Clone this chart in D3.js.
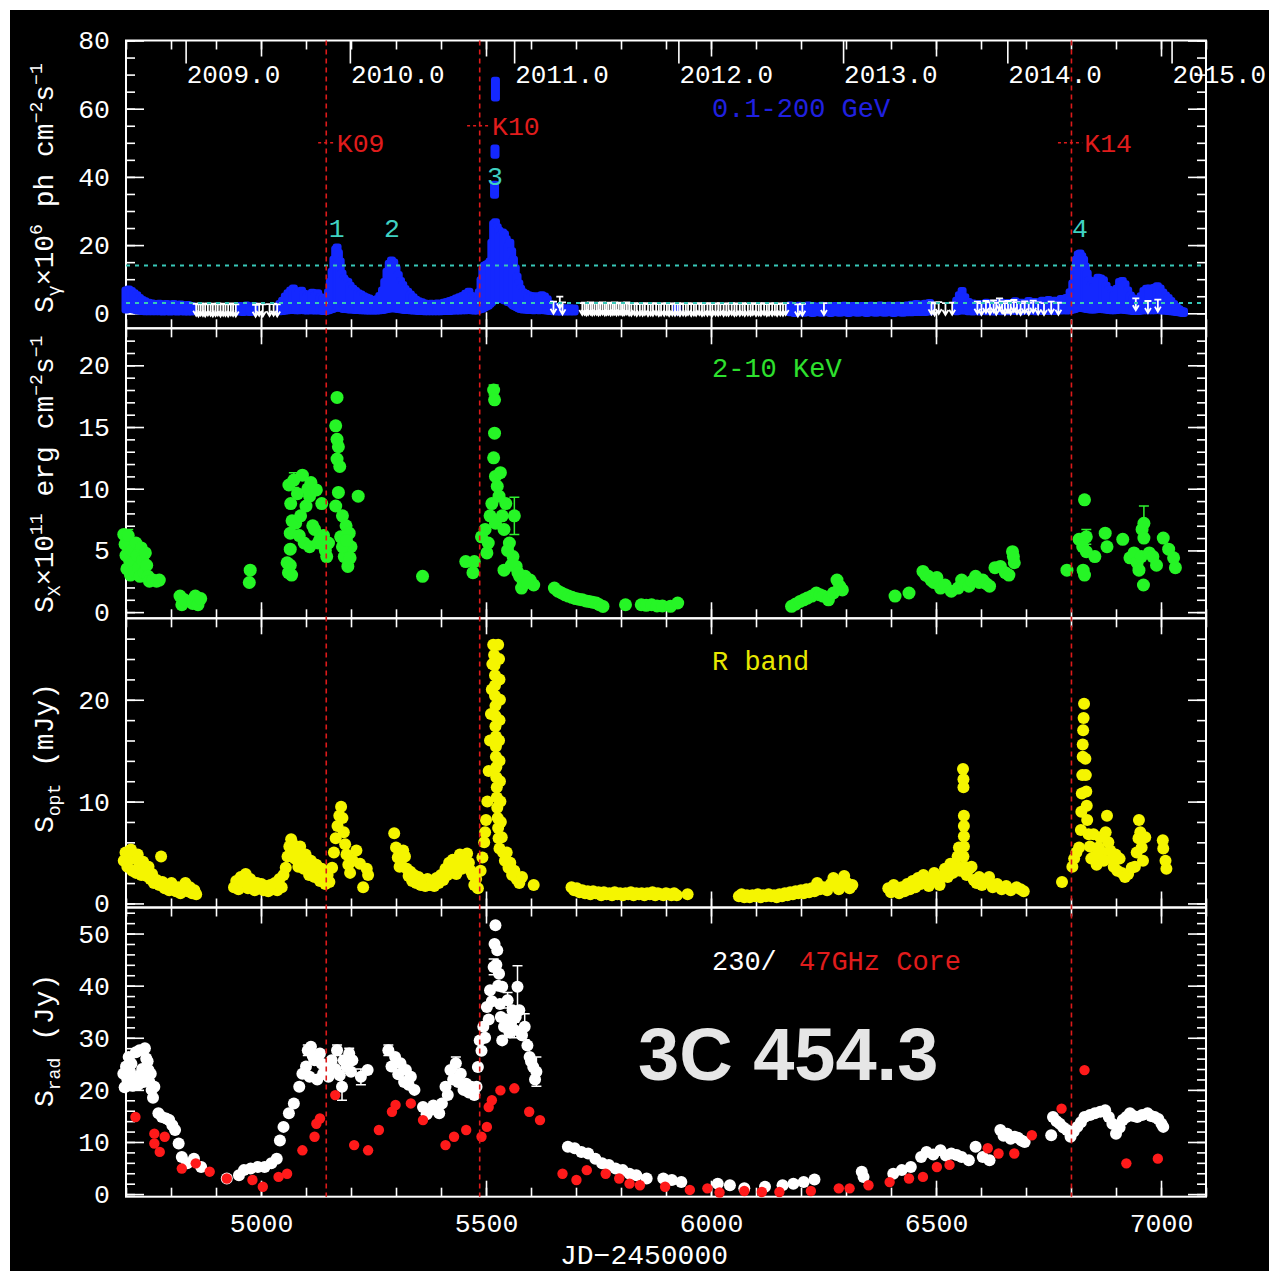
<!DOCTYPE html>
<html lang="en">
<head>
<meta charset="UTF-8">
<title>3C 454.3 multi-band light curves</title>
<script src="https://d3js.org/d3.v7.min.js"></script>
<style>
  body { margin: 0; background: #fff; }
</style>
</head>
<body>
<script>
// all times are JD-2450000

// gamma rays 0.1-200 GeV: [jd, low, high] extent of the points/error bars
const gammaRange = [
  [4700,0.8,7.0],[4706,1.0,7.3],[4712,1.0,6.8],[4718,0.8,6.2],[4724,0.6,5.6],[4730,0.5,4.8],[4736,0.4,4.2],
  [4742,0.3,3.8],[4750,0.3,3.4],[4758,0.3,3.2],[4766,0.3,3.0],[4774,0.3,3.1],[4782,0.2,2.9],[4790,0.3,3.0],
  [4798,0.2,2.8],[4806,0.3,3.0],[4814,0.2,2.8],[4822,0.3,2.9],[4830,0.2,2.6],[4838,0.2,2.7],[4846,0.2,2.4],
  [4952,0.2,2.4],[4960,0.1,2.3],[4968,0.2,2.6],[4976,0.1,2.2],[4984,0.2,2.4],
  [5042,0.3,3.0],[5048,0.4,4.0],[5054,0.5,5.2],[5060,0.6,6.2],[5066,0.7,7.0],[5072,0.7,7.6],[5078,0.6,6.6],
  [5084,0.6,6.4],[5090,0.7,6.9],[5096,0.6,6.0],[5102,0.5,5.2],[5108,0.6,5.6],[5114,0.6,6.3],[5120,0.5,5.6],
  [5126,0.6,6.2],[5132,0.5,5.0],[5138,0.4,4.4],[5144,0.4,4.0],[5150,0.6,6.5],[5154,0.8,9.5],[5158,1.0,12.5],
  [5162,1.2,16.0],[5166,1.5,19.0],[5169,1.5,19.6],[5172,1.5,18.0],[5176,1.3,15.5],[5180,1.2,12.0],[5184,1.0,10.5],
  [5188,1.0,9.8],[5193,0.9,9.5],[5198,0.8,8.4],[5204,0.8,7.5],[5210,0.7,6.8],[5216,0.7,6.2],[5222,0.6,5.8],
  [5228,0.6,5.3],[5234,0.5,4.9],[5240,0.5,4.6],[5246,0.5,4.2],[5252,0.5,4.0],[5258,0.5,4.4],[5264,0.6,5.4],
  [5270,0.7,7.0],[5275,0.8,9.5],[5280,1.0,12.5],[5285,1.1,14.8],[5290,1.2,15.8],[5295,1.2,15.2],[5300,1.1,13.5],
  [5305,1.0,11.5],[5310,0.9,9.8],[5315,0.8,8.6],[5320,0.7,7.4],[5326,0.7,6.6],[5332,0.6,5.8],[5338,0.5,5.0],
  [5344,0.5,4.3],[5350,0.4,3.8],[5357,0.4,3.5],[5364,0.3,3.2],[5371,0.3,2.9],[5378,0.3,3.1],[5385,0.3,2.9],
  [5392,0.3,3.2],[5399,0.3,3.0],[5406,0.4,3.4],[5413,0.4,3.6],[5420,0.4,3.9],[5427,0.5,4.2],[5434,0.5,4.6],
  [5441,0.5,5.0],[5448,0.6,5.4],[5455,0.6,6.0],[5462,0.7,6.6],[5468,0.6,5.4],[5474,0.5,4.4],[5480,0.5,4.0],
  [5485,0.8,6.5],[5489,1.0,10.0],[5493,1.2,13.0],[5497,1.5,14.2],[5501,1.8,14.5],[5505,2.0,14.8],[5509,2.5,15.5],
  [5513,3.0,21.0],[5517,3.5,26.5],[5521,4.0,27.0],[5525,4.0,25.5],[5529,4.0,24.5],[5533,4.0,23.0],[5537,4.0,24.0],
  [5541,3.5,23.5],[5545,3.5,22.0],[5549,3.0,20.0],[5553,3.0,21.0],[5557,2.5,18.5],[5561,2.0,16.0],[5565,1.8,13.5],
  [5569,1.5,11.0],[5573,1.2,9.0],[5577,1.0,7.5],[5582,0.8,6.5],[5588,0.8,6.0],[5594,0.7,5.6],[5600,0.7,5.4],
  [5606,0.6,5.0],[5612,0.7,5.3],[5618,0.6,5.0],[5624,0.7,5.6],[5630,0.6,5.2],[5636,0.5,4.4],[5642,0.4,3.0],
  [5650,0.3,2.4],[5658,0.2,2.1],[5666,0.2,1.9],[5676,0.2,1.8],[5686,0.2,1.8],[5696,0.2,1.7],
  [5519,34.5,38.0],[5520,46.2,48.6],[5521,63.0,68.5],[5924,0.2,2.0],
  [6176,0.0,2.6],[6186,-0.2,2.4],[6196,0.0,2.5],[6206,-0.1,2.3],[6216,0.0,2.6],[6226,-0.2,2.4],[6236,0.0,2.3],
  [6246,-0.1,2.5],[6256,0.0,2.4],[6266,-0.2,2.2],[6276,0.0,2.4],[6286,-0.1,2.3],[6296,0.0,2.5],[6306,-0.2,2.3],
  [6316,0.0,2.4],[6326,-0.1,2.2],[6336,0.0,2.4],[6346,-0.2,2.3],[6356,0.0,2.5],[6366,-0.1,2.4],[6376,0.0,2.6],
  [6386,-0.1,2.4],[6396,0.0,2.5],[6406,-0.2,2.3],[6416,0.0,2.5],[6426,-0.1,2.4],[6436,0.0,2.6],[6446,0.0,2.8],
  [6456,0.1,3.0],[6466,0.1,2.9],[6476,0.1,3.1],[6486,0.2,3.3],[6546,0.3,4.0],[6552,0.5,5.6],[6558,0.6,6.8],
  [6564,0.5,5.0],[6572,0.3,3.6],[6582,0.2,3.2],[6596,0.2,3.0],[6612,0.3,3.4],[6628,0.2,3.1],[6644,0.3,3.5],
  [6660,0.3,3.3],[6676,0.4,3.8],[6690,0.3,3.4],[6706,0.4,3.9],[6720,0.3,3.6],[6736,0.4,4.0],[6750,0.4,4.2],
  [6764,0.4,4.0],[6778,0.5,4.5],[6790,0.5,4.8],[6798,0.6,6.5],[6804,0.8,9.0],[6808,1.0,13.0],[6812,1.2,16.0],
  [6816,1.3,17.5],[6820,1.3,17.8],[6824,1.3,17.0],[6828,1.2,16.0],[6832,1.1,14.0],[6836,1.0,12.0],[6840,0.9,10.0],
  [6845,0.8,8.5],[6850,0.8,8.0],[6855,0.9,9.8],[6860,1.0,10.7],[6866,1.0,10.5],[6872,0.9,10.0],[6878,0.8,8.4],
  [6884,0.7,7.2],[6890,0.6,6.0],[6896,0.6,5.6],[6902,0.7,7.5],[6908,0.8,9.5],[6914,0.8,9.8],[6920,0.7,8.8],
  [6926,0.6,7.0],[6932,0.5,5.5],[6938,0.4,4.6],[6944,0.4,4.2],[6950,0.4,4.4],[6956,0.5,5.3],[6962,0.6,6.8],
  [6968,0.6,7.5],[6974,0.6,7.6],[6980,0.6,7.4],[6986,0.6,7.8],[6992,0.7,8.2],[6998,0.6,7.6],[7004,0.5,6.4],
  [7010,0.5,5.5],[7016,0.4,4.8],[7022,0.3,3.9],[7028,0.2,3.0],[7034,0.1,2.2],[7040,0.0,1.5],[7046,-0.1,1.0],[7050,-0.2,0.8]
];

// gamma-ray upper limits: [jd, limit]
const gammaLimits = [
  [4856,2.8],[4861,2.6],[4866,2.9],[4871,2.7],[4876,2.6],[4882,2.9],[4888,2.8],[4893,2.6],[4899,2.7],[4904,2.9],
  [4910,2.6],[4916,2.8],[4921,2.7],[4927,2.6],[4933,2.9],[4938,2.7],[4944,2.6],
  [4988,2.5],[4996,2.8],[5004,2.6],[5019,2.7],[5028,2.8],[5036,2.6],
  [5650,3.4],[5664,4.9],[5670,3.2],[5714,3.0],[5719,3.1],[5723,2.9],[5727,3.0],[5732,3.2],[5736,2.9],[5741,3.0],
  [5746,3.1],[5750,2.9],[5754,3.0],[5759,3.2],[5764,2.9],[5768,3.0],[5772,3.1],[5777,2.9],[5782,3.0],[5786,3.2],
  [5790,2.9],[5795,3.0],[5800,3.1],[5804,2.9],[5808,3.0],[5813,3.2],[5818,2.9],[5823,2.8],[5830,3.0],[5835,2.7],
  [5842,2.9],[5848,2.8],[5853,3.0],[5860,2.7],[5866,2.9],[5871,2.8],[5878,3.0],[5884,2.7],[5889,2.9],[5896,2.8],
  [5902,3.0],[5907,2.7],[5914,2.9],[5920,2.8],[5926,3.0],[5931,2.7],[5938,2.9],[5944,2.8],[5949,3.0],[5956,2.7],
  [5962,2.9],[5967,2.8],[5974,3.0],[5980,2.7],[5985,2.9],[5992,2.8],[5998,3.0],[6003,2.7],[6010,2.9],[6016,2.8],
  [6021,3.0],[6028,2.7],[6034,2.9],[6039,2.8],[6046,3.0],[6052,2.7],[6057,2.9],[6064,2.8],[6070,3.0],[6075,2.7],
  [6082,2.9],[6088,2.8],[6093,3.0],[6100,2.7],[6106,2.9],[6111,2.8],[6118,3.0],[6124,2.7],[6129,2.9],[6136,2.8],
  [6142,3.0],[6147,2.7],[6154,2.9],[6160,2.8],[6166,3.0],
  [6193,2.6],[6203,2.8],[6251,3.0],[6490,3.2],[6497,2.9],[6506,3.3],[6521,3.0],[6536,3.1],
  [6592,3.4],[6601,3.0],[6611,3.6],[6620,3.2],[6628,3.8],[6634,3.1],[6641,4.4],[6647,3.5],[6653,3.0],[6660,3.6],
  [6666,3.2],[6673,3.9],[6680,3.3],[6688,3.0],[6697,3.5],[6706,3.1],[6716,3.7],[6727,3.2],[6740,3.0],[6756,3.4],
  [6772,3.1],[6944,4.4],[6971,3.6],[6993,4.0]
];
const gammaLevels = [14, 3];

// X-rays 2-10 keV: [jd, flux, err?]
const xray = [
  [4695,6.3],[4698,5.5],[4700,4.6],[4702,3.5],[4705,6.2,0.5],[4708,4.2],[4710,3.0],[4713,5.0],[4716,4.0],[4719,3.3],
  [4722,5.6],[4725,4.6],[4728,3.6],[4731,2.9],[4734,5.2],[4737,4.2],[4740,3.2],[4743,4.8],[4746,3.8],[4749,2.9],
  [4752,2.5],[4760,2.6],[4768,2.5],[4774,2.6],
  [4820,1.3],[4824,0.6],[4830,1.0],[4848,0.7],[4854,1.3],[4860,0.6],[4866,1.1],
  [4974,2.4],[4976,3.4],
  [5058,4.0],[5061,3.2],[5065,3.8],[5068,3.0],[5065,5.1],
  [5062,10.3],[5066,8.8],[5065,6.4],[5069,7.4],[5073,10.7,0.6],[5077,7.2],[5081,9.6],[5085,6.2],[5088,7.8],[5092,11.1],
  [5096,5.6],[5100,8.6],[5104,10.0],[5108,9.4],[5108,5.3],[5111,10.5],[5115,7.0],[5119,6.7],[5123,9.9],[5127,5.6],
  [5131,5.9],[5135,8.8],[5139,6.2],[5143,5.0],[5146,4.5],[5150,5.6],
  [5166,15.1],[5169,17.4],[5169,14.0],[5172,13.4],[5169,12.4],[5175,11.8],[5172,9.7],[5166,8.6],[5181,7.8],[5189,7.0],
  [5177,6.1],[5196,6.4],[5200,5.3],[5185,4.5],[5193,3.7],[5181,5.3],[5216,9.4],[5190,5.8],[5198,4.4],
  [5359,2.9],[5455,4.1],[5474,4.1],[5471,3.2],
  [5490,6.1],[5498,6.7],[5502,4.8],[5505,5.6],[5509,7.8],[5513,8.8],[5517,18.0,0.4],[5519,17.2],[5519,14.5],[5517,12.5],
  [5521,11.0],[5525,10.2],[5529,9.4],[5532,11.3],[5521,7.2],[5536,7.8],[5540,6.7],[5544,8.8],[5563,7.8,1.5],[5540,3.4],
  [5552,5.6],[5560,4.5],[5567,3.7],[5575,2.9],[5579,1.95],[5587,2.9],[5598,2.6],[5606,2.2],[5548,5.0],[5556,3.8],
  [5571,3.2],[5583,2.4],[5592,2.4],
  [5652,1.95],[5660,1.7],[5668,1.55],[5676,1.4],[5683,1.3],[5691,1.2],[5699,1.1],[5706,1.05],[5714,1.0],[5722,0.9],
  [5729,0.87],[5737,0.8],[5745,0.74],[5752,0.6],[5760,0.46],
  [5810,0.6],[5845,0.6],[5856,0.55],[5868,0.6],[5880,0.5],[5892,0.5],[5910,0.47],[5926,0.74],
  [6179,0.47],[6188,0.65],[6198,0.87],[6206,1.0],[6214,1.14],[6224,1.3],[6234,1.55],[6242,1.4],[6249,1.3],[6261,1.0],
  [6272,1.55],[6280,2.6],[6286,2.1],[6292,1.8],
  [6409,1.3],[6440,1.55],
  [6471,3.3],[6477,3.0],[6483,2.9],[6489,2.6],[6495,2.4],[6502,2.8],[6510,1.95],[6520,2.2],[6534,1.7],[6549,1.95],
  [6557,2.6],[6565,2.3],[6573,2.1],[6580,2.5],[6588,2.9],[6596,2.4],[6604,2.6],[6612,2.3],[6619,2.1],[6631,3.6],
  [6643,3.7],[6654,3.2],[6662,3.0],[6670,4.9],[6674,4.0],[6672,4.5],
  [6791,3.4],
  [6830,9.1],[6818,5.9],[6834,6.1,0.6],[6826,5.3],[6834,4.9],[6830,3.0],[6827,3.4],[6853,4.5],[6876,6.4],[6880,5.3],
  [6915,5.9],[6931,4.4],[6940,4.8],[6947,4.0],[6958,6.7],[6962,7.2,1.4],[6962,6.0],[6951,3.4],[6961,2.2],[6956,4.5],
  [6974,4.8],[6982,4.5],[6990,3.8],[7005,6.0],[7017,5.1],[7028,4.4],[7032,3.6]
];

// optical R band (mJy): [jd, flux]
const optical = [
  [4695,4.2],[4699,5.0],[4703,3.6],[4707,4.6],[4711,5.3],[4714,3.2],[4718,4.4],[4722,3.0],[4726,4.8],[4730,3.8],
  [4734,2.8],[4738,4.1],[4742,3.3],[4746,2.7],[4750,3.6],[4754,2.4],[4758,2.9],[4762,2.0],[4778,4.6],[4768,2.3],
  [4774,1.8],[4781,2.1],[4786,1.5],[4791,1.8],[4796,1.3],[4801,2.0],[4806,1.5],[4811,1.2],[4816,1.6],[4821,1.0],
  [4826,1.4],[4832,2.0],[4837,1.2],[4842,1.6],[4847,1.0],[4852,1.3],[4856,0.9],
  [4940,1.6],[4945,2.2],[4950,1.4],[4955,2.6],[4960,1.8],[4966,2.9],[4971,1.5],[4976,2.4],[4981,1.9],[4986,1.3],
  [4991,2.0],[4996,1.5],[5001,1.9],[5006,1.3],[5011,1.7],[5016,1.2],[5021,1.8],[5026,1.4],[5031,2.0],[5036,1.3],
  [5041,2.4],[5046,1.6],[5050,2.8],
  [5055,3.5],[5059,4.6],[5063,5.6],[5067,6.3],[5071,5.8],[5075,4.4],[5079,5.2],[5083,3.6],[5087,5.6],[5091,4.6],
  [5095,3.4],[5099,4.8],[5103,3.9],[5107,2.8],[5111,4.2],[5115,3.3],[5119,2.6],[5123,3.8],[5127,2.9],[5131,2.2],
  [5135,3.4],[5139,2.5],[5143,1.9],[5148,2.8],[5152,2.1],
  [5158,3.5],[5162,5.0],[5166,6.4],[5170,7.6],[5174,8.6],[5178,9.5],[5181,8.4],[5184,7.0],[5187,5.8],[5190,4.8],
  [5194,3.8],[5198,3.0],[5204,4.2],[5212,5.2],[5220,3.9],[5227,1.6],[5235,3.4],[5238,2.8],
  [5296,6.9],[5300,5.5],[5304,4.5],[5308,3.6],[5312,4.3],[5316,5.2],[5320,4.6],[5324,3.4],[5328,2.7],[5332,3.1],
  [5336,2.2],[5340,2.8],[5345,2.0],[5350,2.6],[5355,1.8],[5360,2.3],[5365,1.7],[5370,2.4],[5375,1.8],[5380,2.1],
  [5385,1.7],[5390,2.5],[5395,2.0],[5400,2.8],[5405,2.3],[5410,3.4],[5414,2.8],[5418,4.0],[5422,3.3],[5426,4.3],
  [5430,3.6],[5434,2.9],[5438,4.2],[5442,4.8],[5446,3.4],[5450,4.6],[5454,3.7],[5458,4.9],[5462,4.0],[5466,3.2],
  [5470,2.8],[5474,1.8],[5478,2.4],[5482,1.5],
  [5488,3.2],[5492,4.5],[5496,6.0],[5498,7.0],[5500,8.2],[5503,10.0],[5506,13.0],[5509,16.0],[5511,18.6],[5513,21.0],
  [5514,23.5],[5516,25.4],[5518,24.4],[5519,23.4],[5520,22.4],[5520,21.4],[5520,20.4],[5521,19.4],[5521,18.4],
  [5521,17.4],[5522,16.4],[5522,15.4],[5522,14.4],[5523,13.4],[5523,12.4],[5524,11.4],[5524,10.4],[5525,9.4],
  [5526,8.4],[5527,7.4],[5528,6.4],[5530,5.4],[5527,25.4],[5529,24.0],[5530,22.0],[5531,20.0],[5530,18.0],
  [5529,16.0],[5530,14.0],[5531,12.0],[5532,10.0],[5533,8.0],[5535,6.5],
  [5538,5.0],[5542,4.2],[5546,5.0],[5550,3.5],[5554,4.0],[5558,2.8],[5563,3.2],[5568,2.4],[5574,2.0],[5580,2.6],
  [5606,1.8],
  [5690,1.6],[5696,1.3],[5702,1.5],[5708,1.1],[5714,1.3],[5720,1.0],[5726,1.2],[5732,0.9],[5738,1.2],[5744,1.0],
  [5750,1.1],[5756,0.8],[5762,1.1],[5768,0.9],[5774,1.0],[5780,0.8],[5786,1.1],[5792,0.9],[5798,1.0],[5804,0.8],
  [5810,1.0],[5816,0.9],[5822,1.1],[5828,0.8],[5834,1.0],[5840,0.9],[5846,1.0],[5852,0.8],[5858,1.0],[5864,0.9],
  [5870,1.1],[5876,0.8],[5882,1.0],[5888,0.9],[5894,0.8],[5900,1.0],[5906,0.9],[5912,0.8],[5918,1.0],[5924,0.8],
  [5948,0.9],
  [6062,0.7],[6068,0.9],[6074,0.6],[6080,0.8],[6086,0.6],[6092,0.8],[6098,0.7],[6104,0.9],[6110,0.6],[6116,0.8],
  [6122,0.7],[6128,0.9],[6134,0.7],[6140,0.8],[6146,0.6],[6152,0.9],[6158,0.7],[6164,1.0],[6170,0.8],[6176,1.1],
  [6182,0.9],[6188,1.2],[6194,1.0],[6200,1.3],[6206,1.0],[6212,1.4],[6218,1.1],[6224,1.5],[6230,1.2],[6236,2.0],
  [6242,1.4],[6250,1.6],[6258,1.3],[6266,1.9],[6272,2.5],[6278,1.7],[6284,1.4],[6290,2.2],[6296,2.7],[6302,2.0],
  [6308,1.5],[6314,1.8],
  [6394,1.5],[6400,1.1],[6406,1.8],[6412,1.3],[6418,1.0],[6424,1.6],[6430,1.2],[6436,1.9],[6442,1.4],[6448,2.2],
  [6454,1.6],[6460,2.5],[6466,1.9],[6472,2.8],[6478,2.2],[6484,1.7],[6490,2.4],[6496,3.0],[6502,2.3],[6508,1.8],
  [6514,2.7],[6520,3.4],[6526,2.6],[6532,3.9],[6538,3.0],[6544,3.8],[6548,4.6],[6551,5.5],[6554,3.2],[6560,13.2],
  [6561,12.2],[6561,11.4],[6562,8.6],[6562,7.6],[6562,6.6],[6562,5.6],[6561,4.6],[6564,3.6],[6568,2.8],[6574,3.4],
  [6579,3.6],[6584,2.3],[6590,2.0],[6596,2.6],[6602,1.8],[6608,2.2],[6618,2.6],[6626,1.6],[6636,1.9],[6646,1.4],
  [6656,1.7],[6666,1.3],[6679,1.6],[6688,1.4],[6695,1.2],
  [6780,2.1],
  [6803,3.6],[6807,4.4],[6812,5.0],[6818,5.5],[6822,7.2],[6823,9.0],[6824,10.8],[6825,12.6],[6826,14.4],[6826,15.6],
  [6827,17.0],[6828,18.2],[6829,19.6],[6832,14.2],[6833,12.6],[6834,11.0],[6835,9.6],[6836,8.2],[6839,6.8],[6842,5.6],
  [6845,4.4],[6850,6.8],[6853,4.6],[6857,3.8],[6861,5.5],[6865,6.5],[6869,5.0],[6873,4.2],[6877,7.0],[6880,8.6],
  [6883,6.0],[6887,5.2],[6891,4.4],[6895,3.6],[6899,4.8],[6903,3.2],[6908,4.4],[6913,3.0],[6920,2.6],[6927,2.9],
  [6935,3.5],[6942,3.6],[6946,5.0],[6950,6.4],[6951,8.2],[6954,7.0],[6957,5.5],[6960,4.2],[6965,6.5],
  [7004,6.2],[7005,5.4],[7010,4.2],[7012,3.4]
];

// radio 230 GHz (Jy): [jd, flux, err?]
const radio230 = [
  [4694,23.1],[4697,20.5],[4700,24.5],[4703,22.0],[4706,26.3],[4709,23.5],[4712,25.0],[4715,20.8],[4718,22.0],
  [4722,27.2],[4727,21.0],[4730,27.6],[4733,23.0],[4736,24.0],[4739,21.5],[4742,28.0],[4745,26.0],[4748,25.5],
  [4750,23.8],[4752,21.5],[4755,23.1],[4757,20.0],[4763,20.6],[4760,18.5],[4772,15.5],[4780,14.8],[4789,14.5],
  [4796,14.2],[4803,13.2],[4809,12.3],[4817,9.7],[4824,7.1],[4836,5.9],[4851,6.8],[4867,5.2],
  [4924,3.0],[4951,3.6],[4962,4.6],[4977,4.9],[4993,5.2],[5008,5.2],[5023,5.9],[5035,6.8],
  [5042,10.3],[5050,12.9],[5062,15.5],[5073,17.4],[5085,20.6],[5092,23.1],[5100,24.5],[5104,27.6,1.0],[5108,22.5],
  [5111,28.3],[5115,26.5],[5119,25.7],[5125,22.0],[5131,27.0],[5135,25.0],[5138,23.1],[5146,24.4],[5150,22.5],
  [5157,25.7],[5165,24.0],[5169,27.6,1.0],[5175,22.8],[5180,20.6,2.6],[5184,25.7],[5190,24.5],[5196,27.0,1.0],
  [5200,23.5],[5203,25.7],[5222,22.5,1.5],[5237,23.8],
  [5283,27.6,1.0],[5290,24.5],[5298,26.3],[5305,23.0],[5310,25.1],[5318,21.5],[5322,23.8],[5328,21.0],[5333,22.5],
  [5341,20.0],[5360,16.7],[5368,15.3],[5375,16.1],[5383,17.0],[5391,16.1],[5396,15.5],[5402,17.4],
  [5410,20.6],[5415,19.0],[5421,23.8],[5427,22.0],[5433,25.1,1.2],[5438,21.5],[5444,23.1],[5450,20.0],[5456,21.2],
  [5462,19.5],[5467,20.6],[5474,19.0],[5479,20.6],
  [5482,24.4],[5486,29.5],[5490,27.5],[5494,32.1],[5498,30.0],[5502,35.9],[5506,33.5],[5509,39.1],[5513,37.0],
  [5517,43.6,1.5],[5519,48.0],[5521,51.6],[5523,44.0],[5525,46.8],[5527,40.0],[5529,42.3],[5531,36.5],[5533,34.0],
  [5536,39.8],[5540,32.1],[5536,29.5],[5545,33.5],[5548,37.2,1.5],[5552,31.0],[5556,33.0],[5559,35.3],[5563,31.5,1.5],
  [5566,34.0],[5570,39.8,4.0],[5574,35.3],[5580,30.5],[5586,32.1,2.5],[5592,28.5],[5597,26.3],[5600,25.5],
  [5605,24.4],[5609,22.0],[5612,23.5,2.8],
  [5682,9.1],[5697,8.8],[5712,8.1],[5727,7.8],[5743,6.8],[5758,5.9],[5773,5.6],[5788,4.9],[5804,4.6],[5819,3.9],
  [5834,3.6],[5857,3.0],[5894,3.0],[5913,2.7],[5934,2.3],[6015,2.0],[6042,1.7],[6074,1.1],[6120,1.4],[6159,1.7],
  [6183,2.0],[6206,2.3],[6230,2.8],[6335,4.3],[6339,3.3],[6405,3.9],[6424,4.6],[6444,5.2],[6467,7.1],[6479,8.1],
  [6494,7.6],[6510,8.4],[6522,7.4],[6534,7.8],[6546,7.5],[6557,7.1],[6573,6.5],[6588,9.1],[6604,7.1],[6619,6.5],
  [6643,12.3],[6650,11.2],[6658,11.6],[6666,10.6],[6674,11.0],[6682,10.8],[6690,10.3],[6697,10.0],
  [6756,11.3],[6760,14.8],[6768,14.0],[6775,13.5],[6783,12.8],[6791,12.3],[6799,11.0],[6806,12.0],[6814,12.9],
  [6822,13.8],[6830,14.8],[6842,15.2],[6853,15.5],[6865,15.8],[6876,16.1],[6884,14.8],[6892,13.5],[6900,11.6],
  [6908,12.8],[6915,14.2],[6923,14.8],[6931,15.5],[6939,15.0],[6947,14.8],[6958,15.2],[6970,15.5],[6978,15.0],
  [6986,14.8],[6994,14.4],[7001,13.5],[7005,12.9]
];

// radio 47 GHz VLBA core (Jy): [jd, flux]
const radio47 = [
  [4721,14.8],[4763,11.6],[4763,9.7],[4775,8.1],[4786,11.0],[4824,4.9],[4855,5.9],[4886,4.3],[4924,3.0],[4981,2.7],
  [5004,1.4],[5039,3.3],[5058,3.9],[5092,8.4],[5119,11.0],[5123,13.5],[5131,14.5],[5165,19.0],[5207,9.4],[5238,8.4],
  [5262,12.3],[5291,15.8],[5299,17.1],[5333,17.4],[5360,14.2],[5410,9.4],[5429,11.0],[5456,12.3],[5490,11.0],
  [5502,12.9],[5506,16.7],[5513,18.0],[5532,19.9],[5563,20.3],[5596,15.8],[5620,14.2],[5670,3.9],[5701,2.7],
  [5724,4.6],[5766,3.9],[5796,3.0],[5819,2.0],[5842,1.7],[5898,1.4],[5953,0.8],[5992,1.1],[6019,0.3],[6074,0.6],
  [6113,0.4],[6152,0.4],[6222,0.6],[6284,1.1],[6308,1.1],[6350,1.7],[6397,2.3],[6440,3.0],[6471,3.3],[6502,5.2],
  [6530,5.6],[6615,8.8],[6639,7.8],[6674,7.8],[6713,11.3],[6779,16.4],[6830,23.8],[6923,5.9],[6993,6.8]
];

// ejection epochs of the VLBI knots
const knotNames = ["K09", "K10", "K14"];
const knotJD = [5145, 5486, 6801];
const knotSpan = [[5127, 5164], [5458, 5509], [6771, 6825]];
const knotLevel = [50, 55, 50];

// numbered gamma-ray flares
const flareNames = ["1", "2", "3", "4"];
const flareJD = [5168, 5291, 5520, 6820];
const flareLevel = [22.4, 22.4, 37.6, 22.4];

// tick labels
const yearLabels = ["2009.0", "2010.0", "2011.0", "2012.0", "2013.0", "2014.0", "2015.0"];
const yearJD = [4832.5, 5197.5, 5562.5, 5927.5, 6293.5, 6658.5, 7023.5];
const jdLabels = [5000, 5500, 6000, 6500, 7000];
const bandNames = ["0.1-200 GeV", "2-10 KeV", "R band", "230/", "47GHz Core"];

const mono = '"Liberation Mono", "DejaVu Sans Mono", monospace';
const L = 126, R = 1206;

const svg = d3.select("body").append("svg").attr("width", 1269).attr("height", 1271);
svg.append("rect").attr("x", 10).attr("y", 10).attr("width", 1259).attr("height", 1261).attr("fill", "#000");

const x = d3.scaleLinear().domain([4700, 7100]).range([L, R]);

const panels = [
  { y: d3.scaleLinear().domain([-4.4, 80]).range([328.3, 40.5]), major: [0, 20, 40, 60, 80], minor: d3.range(0, 81, 5) },
  { y: d3.scaleLinear().domain([-0.5, 23]).range([618.3, 328.3]), major: [0, 5, 10, 15, 20], minor: d3.range(0, 23, 1) },
  { y: d3.scaleLinear().domain([-0.4, 28]).range([907.5, 618.3]), major: [0, 10, 20], minor: d3.range(0, 28, 2) },
  { y: d3.scaleLinear().domain([-0.5, 55]).range([1196.7, 907.5]), major: [0, 10, 20, 30, 40, 50], minor: d3.range(0, 55, 2) }
];
const [pG, pX, pO, pR] = panels;

function styleAxis(g) {
  g.select(".domain").remove();
  g.attr("font-family", mono).attr("font-size", 26.5);
  g.selectAll(".tick line").attr("stroke", "#fff").attr("stroke-width", 1.6);
  g.selectAll(".tick text").attr("fill", "#fff");
}

const jdMinor = d3.range(4700, 7101, 100);

panels.forEach((p, i) => {
  const [bottom, top] = p.y.range();
  svg.append("g").attr("transform", `translate(${L},0)`)
    .call(d3.axisLeft(p.y).tickValues(p.minor).tickSize(-9).tickFormat("")).call(styleAxis);
  svg.append("g").attr("transform", `translate(${L},0)`)
    .call(d3.axisLeft(p.y).tickValues(p.major).tickSize(-18).tickPadding(16)).call(styleAxis);
  svg.append("g").attr("transform", `translate(${R},0)`)
    .call(d3.axisRight(p.y).tickValues(p.minor).tickSize(-9).tickFormat("")).call(styleAxis);
  svg.append("g").attr("transform", `translate(${R},0)`)
    .call(d3.axisRight(p.y).tickValues(p.major).tickSize(-18).tickFormat("")).call(styleAxis);

  svg.append("g").attr("transform", `translate(0,${bottom})`)
    .call(d3.axisBottom(x).tickValues(jdMinor).tickSize(-9).tickFormat("")).call(styleAxis);
  svg.append("g").attr("transform", `translate(0,${bottom})`)
    .call(d3.axisBottom(x).tickValues(jdLabels).tickSize(-16).tickPadding(16)
      .tickFormat(i === 3 ? d3.format("d") : "")).call(styleAxis);
  svg.append("g").attr("transform", `translate(0,${top})`)
    .call(d3.axisTop(x).tickValues(jdMinor).tickSize(-9).tickFormat("")).call(styleAxis);
  svg.append("g").attr("transform", `translate(0,${top})`)
    .call(d3.axisTop(x).tickValues(jdLabels).tickSize(-16).tickFormat("")).call(styleAxis);

  svg.append("rect").attr("x", L).attr("y", top).attr("width", R - L).attr("height", bottom - top)
    .attr("fill", "none").attr("stroke", "#fff").attr("stroke-width", 2);
});

// calendar years along the top
svg.append("g").attr("transform", `translate(0,${pG.y.range()[1]})`)
  .call(d3.axisTop(x).tickValues(yearJD).tickSize(-23).tickFormat("")).call(styleAxis);
svg.append("g").selectAll("text").data(yearJD).join("text")
  .attr("x", d => x(d) + 1).attr("y", 83)
  .attr("font-family", mono).attr("font-size", 26).attr("fill", "#fff")
  .text((d, i) => yearLabels[i]);

// ---- gamma rays ----
svg.append("g").selectAll("rect").data(gammaRange).join("rect")
  .attr("x", d => x(d[0]) - 4.5).attr("width", 9)
  .attr("y", d => pG.y(d[2]) - 3)
  .attr("height", d => pG.y(d[1]) - pG.y(d[2]) + 6)
  .attr("rx", 3).attr("fill", "#1428ff");

svg.append("g").selectAll("path").data(gammaLimits).join("path")
  .attr("d", d => {
    const cx = x(d[0]), cy = pG.y(d[1]);
    return `M${cx - 3.5},${cy}H${cx + 3.5}M${cx},${cy}V${cy + 12}M${cx - 3},${cy + 7}L${cx},${cy + 12}L${cx + 3},${cy + 7}`;
  })
  .attr("fill", "none").attr("stroke", "#fff").attr("stroke-width", 1.8);

svg.append("g").selectAll("line").data(gammaLevels).join("line")
  .attr("x1", L).attr("x2", R).attr("y1", d => pG.y(d)).attr("y2", d => pG.y(d))
  .attr("stroke", "#38c8b8").attr("stroke-width", 2).attr("stroke-dasharray", "4,5");

svg.append("g").selectAll("text").data(flareJD).join("text")
  .attr("x", d => x(d)).attr("y", (d, i) => pG.y(flareLevel[i]))
  .attr("text-anchor", "middle").attr("font-family", mono).attr("font-size", 26.5)
  .attr("fill", "#3fd2c2").text((d, i) => flareNames[i]);

// ---- error bars helper ----
function errorBars(data, yScale, color) {
  const withErr = data.filter(d => d.length > 2);
  svg.append("g").selectAll("path").data(withErr).join("path")
    .attr("d", d => {
      const cx = x(d[0]), hi = yScale(d[1] + d[2]), lo = yScale(d[1] - d[2]);
      return `M${cx},${hi}V${lo}M${cx - 5},${hi}H${cx + 5}M${cx - 5},${lo}H${cx + 5}`;
    })
    .attr("stroke", color).attr("stroke-width", 1.5).attr("fill", "none");
}

// ---- X-rays ----
errorBars(xray, pX.y, "#2ef02e");
svg.append("g").selectAll("circle").data(xray).join("circle")
  .attr("cx", d => x(d[0])).attr("cy", d => pX.y(d[1])).attr("r", 6.5).attr("fill", "#26f526");

// ---- optical ----
svg.append("g").selectAll("circle").data(optical).join("circle")
  .attr("cx", d => x(d[0])).attr("cy", d => pO.y(d[1])).attr("r", 6).attr("fill", "#f5f500");

// ---- radio ----
errorBars(radio230, pR.y, "#fff");
svg.append("g").selectAll("circle").data(radio230).join("circle")
  .attr("cx", d => x(d[0])).attr("cy", d => pR.y(d[1])).attr("r", 6).attr("fill", "#fff");
svg.append("g").selectAll("circle").data(radio47).join("circle")
  .attr("cx", d => x(d[0])).attr("cy", d => pR.y(d[1])).attr("r", 5.2).attr("fill", "#ff1a1a");

// ---- knot ejection epochs ----
const knotG = svg.append("g");
knotG.selectAll("line.k").data(knotJD).join("line")
  .attr("x1", d => x(d)).attr("x2", d => x(d))
  .attr("y1", pG.y.range()[1]).attr("y2", pR.y.range()[0])
  .attr("stroke", "#dc1a1a").attr("stroke-width", 1.6).attr("stroke-dasharray", "5,4");
knotG.selectAll("line.s").data(knotSpan).join("line")
  .attr("x1", d => x(d[0])).attr("x2", d => x(d[1]))
  .attr("y1", (d, i) => pG.y(knotLevel[i])).attr("y2", (d, i) => pG.y(knotLevel[i]))
  .attr("stroke", "#dc1a1a").attr("stroke-width", 1.5).attr("stroke-dasharray", "3,3");
knotG.selectAll("text").data(knotSpan).join("text")
  .attr("x", d => x(d[1]) + 2).attr("y", (d, i) => pG.y(knotLevel[i]) + 9.5)
  .attr("font-family", mono).attr("font-size", 26.5).attr("fill", "#e01c1c")
  .text((d, i) => knotNames[i]);

// ---- band names ----
const bandColors = ["#2020e0", "#2ee02e", "#e8e800", "#fff", "#e01c1c"];
const bandY = [117, 377, 670, 970, 970];
const bandX = [712, 712, 712, 712, 799];
svg.append("g").selectAll("text").data(bandNames).join("text")
  .attr("x", (d, i) => bandX[i]).attr("y", (d, i) => bandY[i])
  .attr("font-family", mono).attr("font-size", 27)
  .attr("fill", (d, i) => bandColors[i]).text(d => d);

// ---- axis titles ----
function richText(sel, parts) {
  let shift = 0;
  parts.forEach(([t, kind]) => {
    const target = kind === "sub" ? 7 : kind === "sup" ? -11 : 0;
    sel.append("tspan").attr("dy", target - shift).attr("font-size", kind ? 18 : 28).text(t);
    shift = target;
  });
}
const yTitles = [
  { y: 313, parts: [["S"], ["γ", "sub"], ["×10"], ["6", "sup"], [" ph cm"], ["−2", "sup"], ["s"], ["−1", "sup"]] },
  { y: 613, parts: [["S"], ["X", "sub"], ["×10"], ["11", "sup"], [" erg cm"], ["−2", "sup"], ["s"], ["−1", "sup"]] },
  { y: 833, parts: [["S"], ["opt", "sub"], [" (mJy)"]] },
  { y: 1107, parts: [["S"], ["rad", "sub"], [" (Jy)"]] }
];
yTitles.forEach(t => {
  const txt = svg.append("text").attr("transform", `translate(53,${t.y}) rotate(-90)`)
    .attr("font-family", mono).attr("fill", "#fff");
  richText(txt, t.parts);
});

svg.append("text").attr("x", 644).attr("y", 1264).attr("text-anchor", "middle")
  .attr("font-family", mono).attr("font-size", 28).attr("fill", "#fff").text("JD−2450000");

svg.append("text").attr("x", 638).attr("y", 1080)
  .attr("font-family", '"Liberation Sans", Arial, sans-serif').attr("font-weight", "bold")
  .attr("font-size", 74).attr("fill", "#e6e6e6").text("3C 454.3");
</script>
</body>
</html>
